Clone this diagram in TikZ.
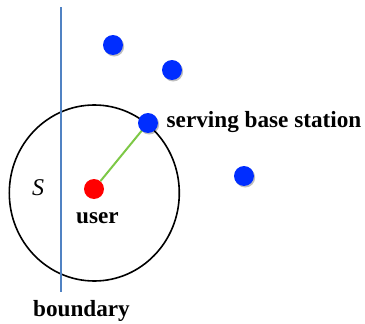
\documentclass[tikz,border=0pt]{standalone}
\usepackage{fontspec}
\setmainfont{Liberation Serif}
\usetikzlibrary{shadows}
\definecolor{bsblue}{RGB}{0,45,255}
\definecolor{linkgreen}{RGB}{125,200,70}
\definecolor{edgeblue}{RGB}{80,130,195}
\tikzset{
  station/.style={circle, fill=bsblue, minimum size=20pt, inner sep=0pt,
    drop shadow={shadow xshift=1.2pt, shadow yshift=-1.5pt, opacity=0.25, fill=black}},
  userdot/.style={circle, fill=red, minimum size=20pt, inner sep=0pt},
  lbl/.style={font=\fontsize{23.2}{25}\selectfont\bfseries, inner sep=0pt}
}
\begin{document}
\begin{tikzpicture}[x=1pt, y=-1pt]
\useasboundingbox (0,0) rectangle (365,324);
% coverage disc around the user
\draw[line width=1.6pt] (94.3,193) ellipse [x radius=85, y radius=88];
% boundary line
\draw[edgeblue, line width=1.9pt] (61,7) -- (61,292);
% nodes
\node[userdot] (user) at (94,189) {};
\node[station] (bs1) at (113,45) {};
\node[station] (bs2) at (172,70) {};
\node[station] (bs3) at (244,176) {};
\draw[linkgreen, line width=2pt] (user) -- (148,123) coordinate (servpt);
\node[station] (serving) at (148,123) {};
% labels
\node[lbl, anchor=west] (servlbl) at (166.5,122) {serving base station};
\node[lbl] (userlbl) at (97.5,218) {user};
\node[font=\fontsize{24}{25}\selectfont\itshape, inner sep=0pt] (slbl) at (38,188) {S};
\node[lbl] (boundlbl) at (81.5,311) {boundary};
\end{tikzpicture}
\end{document}
